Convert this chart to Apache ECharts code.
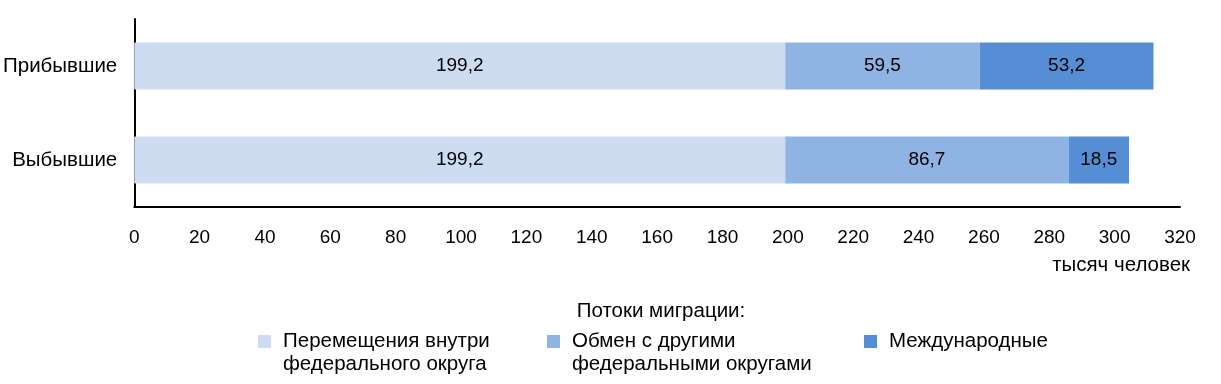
<!DOCTYPE html>
<html><head><meta charset="utf-8">
<script src="https://cdn.jsdelivr.net/npm/echarts@6/dist/echarts.min.js"></script>
<style>html,body{margin:0;padding:0;background:#fff}#c{width:1221px;height:384px}</style>
</head><body><div id="c"></div>
<script>
const categories = ['Прибывшие', 'Выбывшие'];
const seriesNames = ['Перемещения внутри\nфедерального округа', 'Обмен с другими\nфедеральными округами', 'Международные'];
const withinDistrict = [199.2, 199.2];
const otherDistricts = [59.5, 86.7];
const international = [53.2, 18.5];
const xTicks = [0, 320, 20];
const colors = ['#cddcf1', '#8fb3e2', '#558ed5'];
const font = 'Liberation Sans, Arial, sans-serif';
const txt = 20.5, num = 19;

const chart = echarts.init(document.getElementById('c'));
const fmt = p => String(p.value.toFixed(1)).replace('.', ',');
function mk(name, data, i) {
  return {
    type: 'bar', name: name, stack: 'total', data: data, barWidth: '50%',
    itemStyle: { color: colors[i] },
    label: { show: true, position: 'inside', color: '#000', fontSize: num, fontFamily: font, formatter: fmt }
  };
}
function lg(name, left, multi) {
  return {
    data: [name], left: left, top: multi ? 307 : 330, itemWidth: 13, itemHeight: 13, itemGap: 0,
    icon: 'rect', selectedMode: false, padding: 0,
    formatter: n => multi ? ' \n' + n : n,
    textStyle: { fontSize: txt, fontFamily: font, color: '#000', lineHeight: 23, padding: [0, 0, 0, 7] }
  };
}
chart.setOption({
  animation: false,
  color: colors,
  textStyle: { fontFamily: font },
  grid: { left: 134, right: 41, top: 19, bottom: 177 },
  title: [
    { text: 'Потоки миграции:', left: 661, top: 301, textAlign: 'center', padding: 0,
      textStyle: { fontSize: txt, fontWeight: 'normal', fontFamily: font, color: '#000' } },
    { text: 'тысяч человек', right: 31, top: 255, padding: 0,
      textStyle: { fontSize: txt, fontWeight: 'normal', fontFamily: font, color: '#000' } }
  ],
  legend: [lg(seriesNames[0], 258, true), lg(seriesNames[1], 547, true), lg(seriesNames[2], 864, false)],
  xAxis: {
    type: 'value', min: xTicks[0], max: xTicks[1], interval: xTicks[2],
    axisLine: { show: true, lineStyle: { color: '#000', width: 2 } },
    axisTick: { show: false }, splitLine: { show: false },
    axisLabel: { fontSize: num, color: '#000', margin: 21, fontFamily: font }
  },
  yAxis: {
    type: 'category', data: categories, inverse: true,
    axisLine: { show: true, lineStyle: { color: '#000', width: 2 } },
    axisTick: { show: false },
    axisLabel: { fontSize: txt, color: '#000', margin: 17, fontFamily: font }
  },
  series: [mk(seriesNames[0], withinDistrict, 0), mk(seriesNames[1], otherDistricts, 1), mk(seriesNames[2], international, 2)]
});
</script></body></html>
